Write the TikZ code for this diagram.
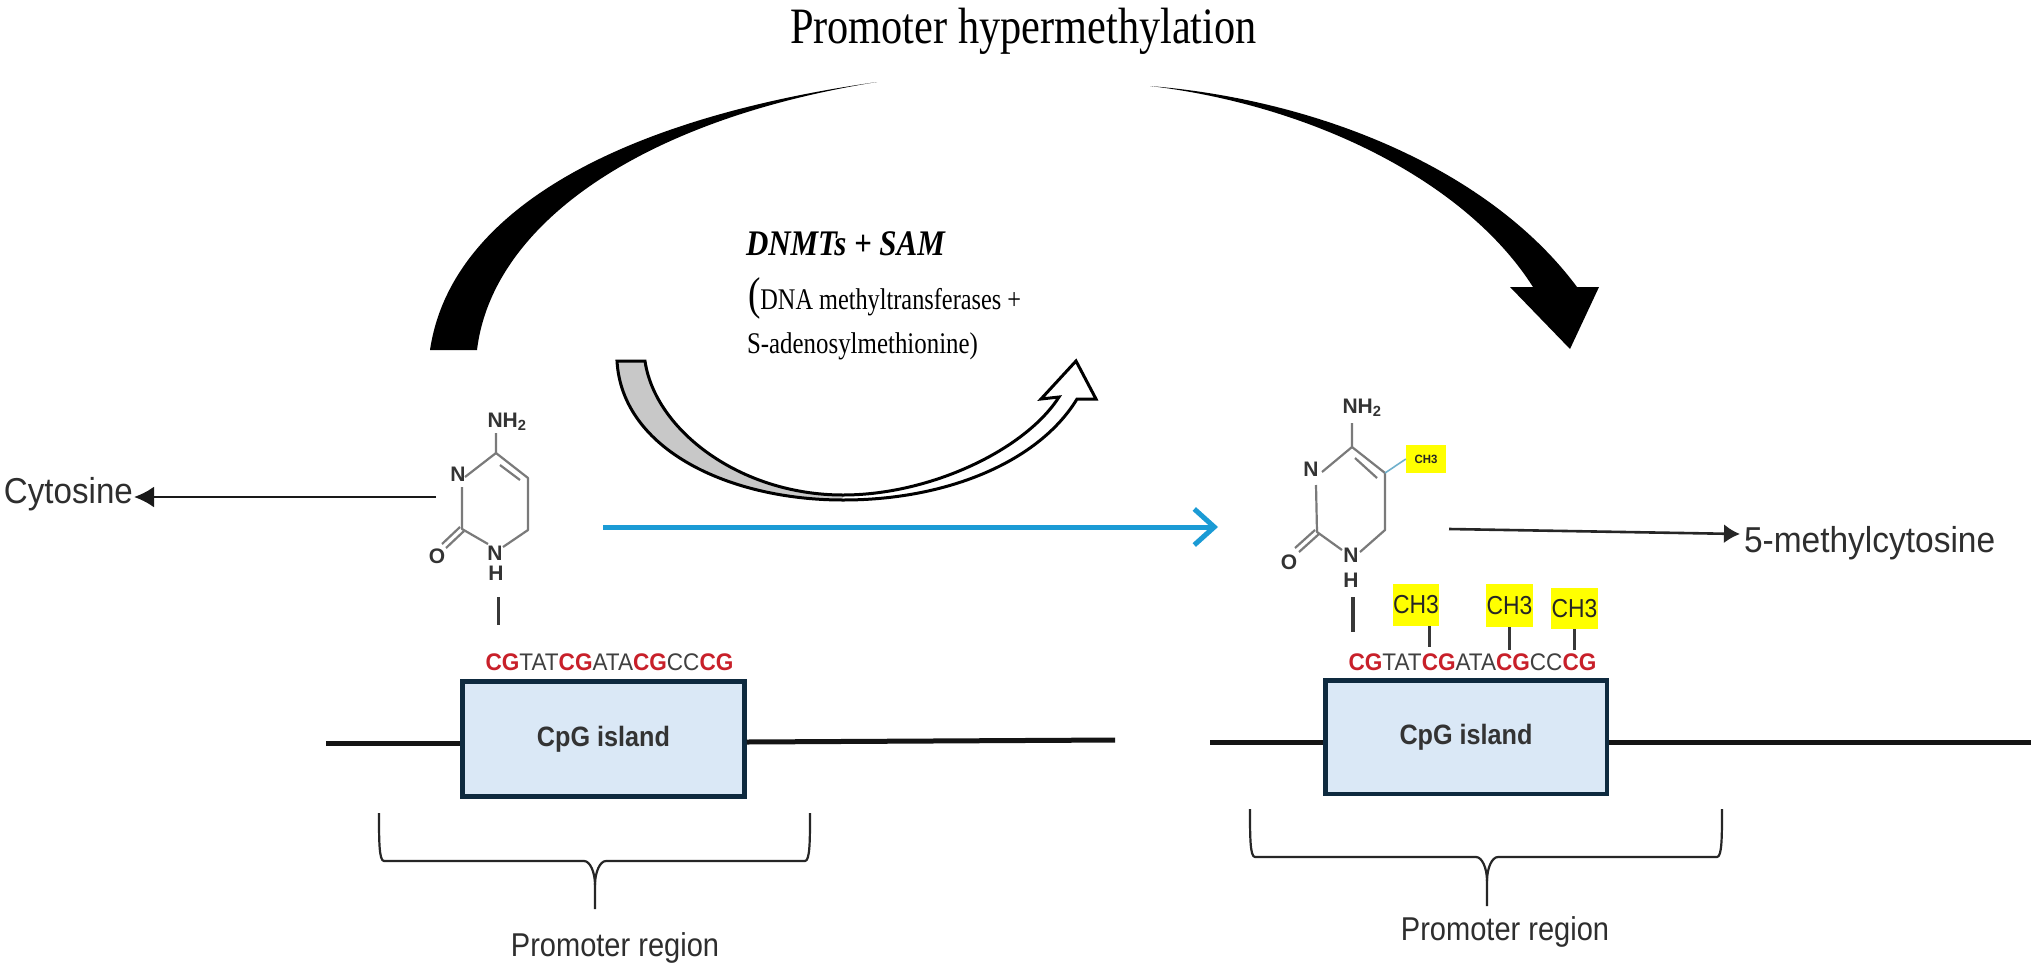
\documentclass[tikz,border=0pt]{standalone}
\usepackage{fontspec}
\setmainfont{Liberation Serif}
\setsansfont{Liberation Sans}
\usetikzlibrary{arrows.meta}
\newcommand{\fsz}[1]{\fontsize{#1}{#1}\selectfont}
\newcommand{\sx}[2]{\scalebox{#1}[1]{#2}}
\newcommand{\cg}{\textcolor{seqred}{\textbf{CG}}}
\newcommand{\seqtext}{\sx{0.94}{\cg TAT\cg ATA\cg CC\cg}}
\newcommand{\nhtwo}{NH\textsubscript{2}}
\definecolor{seqred}{HTML}{C8202A}
\definecolor{boxfill}{HTML}{DAE8F6}
\definecolor{boxline}{HTML}{0E2A3F}
\definecolor{bluearrow}{HTML}{1B9BD5}
\definecolor{bondgray}{HTML}{7A7A7A}
\definecolor{uarrowgray}{HTML}{C8C8C8}
\definecolor{mark}{HTML}{FFFF00}
\definecolor{methylblue}{HTML}{6FB0CC}
\tikzset{
  label text/.style={inner sep=0pt,outer sep=0pt,font=\sffamily,text=black!82},
  serif text/.style={inner sep=0pt,outer sep=0pt,anchor=base west,font=\rmfamily},
  atom/.style={inner sep=0pt,outer sep=0pt,font=\sffamily\bfseries\fsz{21},text=black!80},
  bond/.style={draw=bondgray,line width=2.2pt},
  tick/.style={draw=black!78,line width=3pt},
  cpgbox/.style={draw=boxline,fill=boxfill,line width=4.5pt,inner sep=0pt,font=\sffamily\bfseries\fsz{28},text=black!80},
  dnaline/.style={draw=black!92,line width=5pt},
  brace line/.style={draw=black!85,line width=2.2pt},
  ch3box/.style={fill=mark,inner sep=0pt,font=\sffamily\fsz{26},text=black!85},
  seq/.style={inner sep=0pt,font=\sffamily\fsz{24},text=black!75}
}
\newcommand{\uarrowpath}{(617,361) .. controls (622,450) and (730,500) .. (843,500) .. controls (950,500) and (1040,460) .. (1077,399) -- (1096,399) -- (1076,361) -- (1041,399) -- (1059,397) .. controls (1025,450) and (930,495) .. (843,495) .. controls (740,495) and (655,430) .. (645,361) -- cycle}
\begin{document}
\begin{tikzpicture}[x=1pt,y=-1pt]
\useasboundingbox (0,0) rectangle (2032,970);
\fill[white] (0,0) rectangle (2032,970);

% title
\node[serif text,font=\rmfamily\fsz{51}] (title) at (790,43) {\sx{0.83}{Promoter hypermethylation}};

% large swooshes
\fill[black] (430,350) .. controls (450,215) and (610,120) .. (877,82)
  .. controls (640,120) and (492,225) .. (477,350) -- cycle;
\fill[black] (1150,86) .. controls (1320,100) and (1490,170) .. (1577,287)
  -- (1599,287) -- (1570,349) -- (1510,287) -- (1533,287)
  .. controls (1465,180) and (1310,105) .. (1150,86) -- cycle;

% DNMTs text
\node[serif text,font=\rmfamily\bfseries\itshape\fsz{36}] (dnmts) at (746,255) {\sx{0.86}{DNMTs + SAM}};
\node[serif text,font=\rmfamily\fsz{30}] (dnmtline) at (748,309) {\sx{0.81}{{\fsz{46}(}DNA methyltransferases +}};
\node[serif text,font=\rmfamily\fsz{30}] (samline) at (747,353) {\sx{0.83}{S-adenosylmethionine)}};

% U arrow
\fill[white] \uarrowpath;
\fill[uarrowgray] (617,361) .. controls (622,450) and (730,500) .. (843,500)
  -- (843,495) .. controls (740,495) and (655,430) .. (645,361) -- cycle;
\draw[black,line width=3pt,line join=miter] \uarrowpath;

% labels and connectors
\node[label text,anchor=west,font=\sffamily\fsz{36}] (cytosine) at (4,494) {\sx{0.92}{Cytosine}};
\coordinate (cytstart) at (436,497);
\coordinate (cyttip) at (134,497);
\draw[draw=black!90,line width=2.6pt,-{Latex[length=20pt,width=21pt]}] (cytstart) -- (cyttip);

\coordinate (bluestart) at (603,527);
\coordinate (bluetip) at (1218,527);
\draw[draw=bluearrow,line width=5pt,-{Straight Barb[length=20pt,width=36pt,line width=5pt]}] (bluestart) -- (bluetip);

\node[label text,anchor=west,font=\sffamily\fsz{36}] (mc) at (1744,543) {\sx{0.93}{5-methylcytosine}};
\coordinate (mcstart) at (1449,529);
\coordinate (mctip) at (1740,534);
\draw[draw=black!85,line width=2.6pt,-{Latex[length=16pt,width=19pt]}] (mcstart) -- (mctip);

% left cytosine
\node[atom] (lnh) at (507,422) {\nhtwo};
\node[atom] (ln3) at (458,474) {N};
\node[atom] (lo) at (437,556) {O};
\node[atom] (ln1) at (495,553) {N};
\node[atom] (lh) at (496,573) {H};
\coordinate (lc4) at (496,453);
\coordinate (lc5) at (528,478);
\coordinate (lc6) at (528,530);
\coordinate (lc2) at (462,529);
\draw[bond,line join=round] (496,433) -- (lc4) -- (lc5) -- (lc6) -- (503,547);
\draw[bond] (465,477) -- (lc4);
\draw[bond] (500,465) -- (520,480);
\draw[bond,line join=round] (488,544) -- (lc2) -- (462,487);
\draw[bond] (460,527) -- (442,544);
\draw[bond] (464,531) -- (446,548);
\draw[tick] (498,597) -- (498,625);
\node[seq,anchor=center] (lseq) at (609.5,662) {\seqtext};

% left box and line
\node[cpgbox,minimum width=282pt,minimum height=115pt] (lbox) at (603.5,739) {\sx{0.9}{CpG island}};
\coordinate (lineLa) at (326,743);
\coordinate (lineLb) at (1115,740);
\draw[dnaline] (lineLa) -- (lbox.west |- lineLa);
\draw[dnaline] (lbox.east |- 0,742) -- (lineLb);

% left brace
\draw[brace line,line join=round] (379,813) .. controls (379,840) and (379,861) .. (384,861) -- (584,861) .. controls (590,861) and (595,872) .. (595,885) -- (595,909);
\draw[brace line,line join=round] (810,813) .. controls (810,840) and (810,861) .. (805,861) -- (606,861) .. controls (600,861) and (595,872) .. (595,885);
\node[label text,font=\sffamily\fsz{33}] (lprom) at (615,948) {\sx{0.88}{Promoter region}};

% right cytosine
\node[atom] (rnh) at (1362,408) {\nhtwo};
\node[atom] (rn3) at (1311,469) {N};
\node[atom] (ro) at (1289,562) {O};
\node[atom] (rn1) at (1351,555) {N};
\node[atom] (rh) at (1351,580) {H};
\coordinate (rc4) at (1352,447);
\coordinate (rc5) at (1385,473);
\coordinate (rc6) at (1385,530);
\coordinate (rc2) at (1317,532);
\draw[bond,line join=round] (1352,423) -- (rc4) -- (rc5) -- (rc6) -- (1360,552);
\draw[bond] (1322,472) -- (rc4);
\draw[bond] (1355,458) -- (1377,478);
\draw[bond,line join=round] (1342,550) -- (rc2) -- (1316,485);
\draw[bond] (1315,530) -- (1295,548);
\draw[bond] (1319,534) -- (1299,552);
\node[fill=mark,inner sep=0pt,minimum width=40pt,minimum height=28pt,font=\sffamily\bfseries\fsz{12},text=black!85] (rmeth) at (1426,459) {\sx{0.95}{CH3}};
\draw[draw=methylblue,line width=1.6pt] (rc5) -- (rmeth.west);
\draw[tick,line width=3.6pt] (1353,597) -- (1353,632);
\node[seq,anchor=center] (rseq) at (1472.5,662) {\seqtext};

% CH3 marks
\node[ch3box,minimum width=46pt,minimum height=42pt] (cha) at (1416,605) {\sx{0.88}{CH3}};
\node[ch3box,minimum width=47pt,minimum height=43pt] (chb) at (1509.5,605.5) {\sx{0.88}{CH3}};
\node[ch3box,minimum width=47pt,minimum height=41pt] (chc) at (1574.5,608.5) {\sx{0.88}{CH3}};
\coordinate (cta) at (1429,647);
\coordinate (ctb) at (1509,650);
\coordinate (ctc) at (1574,650);
\draw[tick] (cha.south -| cta) -- (cta);
\draw[tick] (chb.south -| ctb) -- (ctb);
\draw[tick] (chc.south -| ctc) -- (ctc);

% right box and line
\node[cpgbox,minimum width=281.5pt,minimum height=113.5pt] (rbox) at (1466,737) {\sx{0.9}{CpG island}};
\coordinate (lineRa) at (1210,742);
\coordinate (lineRb) at (2031,742);
\draw[dnaline] (lineRa) -- (rbox.west |- lineRa);
\draw[dnaline] (rbox.east |- lineRa) -- (lineRb);

% right brace
\draw[brace line,line join=round] (1250,809) .. controls (1250,836) and (1250,857) .. (1255,857) -- (1476,857) .. controls (1482,857) and (1487,868) .. (1487,881) -- (1487,906);
\draw[brace line,line join=round] (1722,809) .. controls (1722,836) and (1722,857) .. (1717,857) -- (1498,857) .. controls (1492,857) and (1487,868) .. (1487,881);
\node[label text,font=\sffamily\fsz{33}] (rprom) at (1505,932) {\sx{0.88}{Promoter region}};
\end{tikzpicture}
\end{document}
